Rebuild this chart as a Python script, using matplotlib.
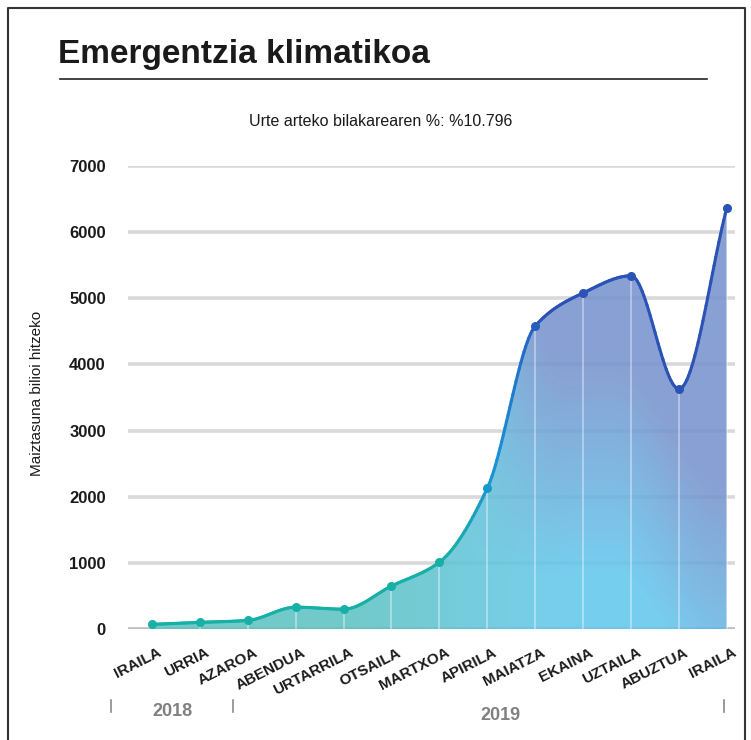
import numpy as np
import matplotlib
matplotlib.use('Agg')
import matplotlib.pyplot as plt
from matplotlib.collections import LineCollection
from matplotlib.patches import Polygon
from matplotlib.lines import Line2D

# data
months = ['IRAILA', 'URRIA', 'AZAROA', 'ABENDUA', 'URTARRILA', 'OTSAILA', 'MARTXOA',
          'APIRILA', 'MAIATZA', 'EKAINA', 'UZTAILA', 'ABUZTUA', 'IRAILA']
values = [70, 100, 130, 330, 300, 650, 1010, 2130, 4580, 5080, 5340, 3630, 6370]
yticks = [0, 1000, 2000, 3000, 4000, 5000, 6000, 7000]
years = ['2018', '2019']

W, H = 751, 740
fig = plt.figure(figsize=(W / 100, H / 100), dpi=100)

def fx(px):
    return px / W

def fy(py):
    return 1 - py / H

NARROW = ['Liberation Sans Narrow', 'Liberation Sans', 'DejaVu Sans']
SANS = ['Liberation Sans', 'DejaVu Sans']


def monotone_cubic(x, y, n=30):
    # Fritsch-Carlson monotone interpolation, only used to draw the smooth line
    x = np.asarray(x, float)
    y = np.asarray(y, float)
    h = np.diff(x)
    d = np.diff(y) / h
    m = np.zeros_like(y)
    m[0], m[-1] = d[0], d[-1]
    for i in range(1, len(y) - 1):
        if d[i - 1] * d[i] <= 0:
            m[i] = 0
        else:
            m[i] = 2 / (1 / d[i - 1] + 1 / d[i])
    xs, ys = [], []
    for i in range(len(x) - 1):
        t = np.linspace(0, 1, n, endpoint=False)
        h00 = 2 * t**3 - 3 * t**2 + 1
        h10 = t**3 - 2 * t**2 + t
        h01 = -2 * t**3 + 3 * t**2
        h11 = t**3 - t**2
        xs.append(x[i] + t * h[i])
        ys.append(h00 * y[i] + h10 * h[i] * m[i] + h01 * y[i + 1] + h11 * h[i] * m[i + 1])
    xs.append([x[-1]])
    ys.append([y[-1]])
    return np.concatenate(xs), np.concatenate(ys)


x = np.arange(len(values))
xs, ys = monotone_cubic(x, values)

# axes: point 0 at px 152, spacing ~47.9 px; value 0 at py 629, 7000 at py 166
x0, x1 = -0.5, 12.17
ax = fig.add_axes([fx(128), fy(629), fx(735) - fx(128), fy(166) - fy(629)])
ax.set_xlim(x0, x1)
ax.set_ylim(0, 7000)
for s in ax.spines.values():
    s.set_visible(False)
ax.set_xticks([])
ax.set_yticks(yticks)
ax.set_yticklabels([str(v) for v in yticks], fontsize=12, fontweight='bold',
                   family=SANS, color='#1a1a1a')
ax.tick_params(axis='y', length=0, pad=16)

# gridlines
for v in yticks:
    ax.axhline(v, color='#bdbdbd' if v == 0 else '#d9d9d9', lw=2.6, zorder=1)

# gradient fill under the curve
gx = np.linspace(x0, x1, 400)
gy = np.linspace(0, 7000, 400)
GX, GY = np.meshgrid(gx, gy)
u = GX / 12.0
v = GY / 7000.0


def sm(a, lo, hi):
    t = np.clip((a - lo) / (hi - lo), 0, 1)
    return t * t * (3 - 2 * t)


teal = np.array([0.36, 0.76, 0.76])
sky = np.array([0.38, 0.78, 0.93])
purple = np.array([0.46, 0.57, 0.80])
b = sm(u, 0.30, 0.80)[..., None]
base = teal * (1 - b) + sky * b
p = np.clip((v - 0.12) * 2.2 * sm(u, 0.50, 0.72) + sm(u, 0.80, 1.0) * 0.6, 0, 1)[..., None]
img = base * (1 - p) + purple * p
im = ax.imshow(img, extent=[x0, x1, 0, 7000], origin='lower', aspect='auto',
               alpha=0.86, zorder=2, interpolation='bilinear')
poly = Polygon(np.column_stack([np.r_[xs, xs[-1], xs[0]], np.r_[ys, 0, 0]]),
               closed=True, facecolor='none', edgecolor='none')
ax.add_patch(poly)
im.set_clip_path(poly)

# thin white verticals at each month
for i, val in enumerate(values):
    ax.plot([i, i], [0, val], color='white', lw=1.2, alpha=0.45, zorder=3)

# line coloured from teal to dark blue
c0 = np.array([0.09, 0.69, 0.65])
c1 = np.array([0.10, 0.56, 0.85])
c2 = np.array([0.17, 0.32, 0.71])


def line_color(xm):
    t = np.clip((xm - 6.3) / 1.9, 0, 1)
    if t < 0.5:
        return c0 + (c1 - c0) * (t / 0.5)
    return c1 + (c2 - c1) * ((t - 0.5) / 0.5)


line_cols = [line_color(xm) for xm in 0.5 * (xs[1:] + xs[:-1])]
segs = np.stack([np.column_stack([xs[:-1], ys[:-1]]), np.column_stack([xs[1:], ys[1:]])], axis=1)
ax.add_collection(LineCollection(segs, colors=line_cols, lw=2.2, zorder=4, capstyle='round'))
for i, val in enumerate(values):
    ax.plot(i, val, 'o', ms=5.5, color=line_color(i), zorder=5, clip_on=False)

# month labels
for i, m in enumerate(months):
    ax.text(i + 0.12, -250, m, rotation=27, rotation_mode='anchor', ha='right', va='top',
            fontsize=11, fontweight='bold', family=NARROW, color='#1a1a1a', clip_on=False)

# year labels and separators
fig.text(fx(172), fy(712), years[0], ha='center', va='center', fontsize=13,
         fontweight='bold', family=NARROW, color='#808080')
fig.text(fx(500), fy(715), years[1], ha='center', va='center', fontsize=13,
         fontweight='bold', family=NARROW, color='#808080')
for px in [111, 233, 724]:
    fig.add_artist(Line2D([fx(px), fx(px)], [fy(700), fy(712)], color='#8a8a8a', lw=1.2))

# titles
fig.text(fx(58), fy(54), 'Emergentzia klimatikoa', ha='left', va='center',
         fontsize=24, fontweight='bold', family=SANS, color='#1a1a1a')
fig.add_artist(Line2D([fx(60), fx(707)], [fy(79), fy(79)], color='#222222', lw=1.2))
fig.text(fx(381), fy(122), 'Urte arteko bilakarearen %: %10.796', ha='center', va='center',
         fontsize=11.5, family=SANS, color='#1a1a1a')
fig.text(fx(37), fy(393), 'Maiztasuna bilioi hitzeko', ha='center', va='center',
         rotation=90, fontsize=11, family=SANS, color='#1a1a1a')

# frame around the graphic (open at the bottom)
fig.add_artist(Line2D([fx(8), fx(8), fx(745), fx(745)], [0, fy(8), fy(8), 0],
                      color='#333333', lw=1.5))

fig.savefig('out.png', dpi=100, facecolor='white')
